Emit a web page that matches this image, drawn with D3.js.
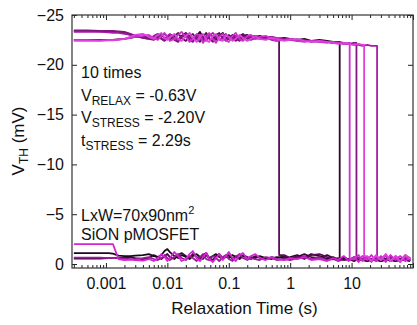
<!DOCTYPE html>
<html><head><meta charset="utf-8">
<script src="https://cdn.jsdelivr.net/npm/d3@7"></script>
<style>
html,body{margin:0;padding:0;background:#fff;}
svg{display:block;font-family:"Liberation Sans",Arial,sans-serif;}
</style></head>
<body><svg id="c" width="417" height="325"></svg>
<script>
// ---- data ----
const times = [
0.0003,0.0005,0.0008,0.0011,0.0013,0.0016,0.002,0.0025,0.003,0.004,
0.005,0.006,0.007,0.008,0.009,0.01,0.011,0.013,0.015,0.017,
0.02,0.023,0.026,0.03,0.034,0.038,0.043,0.048,0.055,0.062,
0.07,0.08,0.09,0.1,0.115,0.13,0.15,0.17,0.2,0.23,
0.27,0.32,0.4,0.5,0.6,0.8,1,1.3,1.7,2.2,
3,4,5,6,7.5,9,11,13,15,18,
21,25,30,36,43,52,62,75,90];

const h1 = [-23.4,-23.4,-23.35,-23.35,-23.3,-23.3,-23.2,-23.0,-22.9,-22.8,
-22.7,-22.8,-22.6,-22.9,-23.1,-22.8,-22.5,-22.9,-23.2,-22.7,
-22.4,-22.9,-23.1,-22.6,-22.3,-22.8,-23.2,-22.7,-22.4,-23.0,
-23.2,-22.6,-22.5,-23.0,-22.7,-22.4,-22.9,-23.1,-22.6,-22.8,
-22.9,-22.7,-22.8,-22.6,-22.5,-0.9,-0.6,-0.8,-0.5,-0.9,
-1.0,-0.7,-0.5,-0.6,-0.4,-0.5,-0.3,-0.6,-0.4,-0.5,
-0.3,-0.6,-0.4,-0.5,-0.3,-0.6,-0.4,-0.5,-0.3];
const h2 = [-22.5,-22.5,-22.5,-22.5,-22.5,-22.55,-22.6,-22.7,-22.8,-22.8,
-22.8,-22.6,-22.9,-23.0,-22.7,-22.6,-23.0,-22.8,-22.5,-22.9,
-23.2,-22.8,-22.5,-22.9,-23.3,-22.7,-22.6,-23.1,-22.8,-22.5,
-22.9,-23.2,-22.7,-22.6,-23.0,-22.8,-22.5,-22.9,-23.0,-22.7,
-22.8,-22.9,-22.7,-22.8,-22.6,-22.7,-22.6,-22.5,-22.6,-22.4,
-22.5,-22.4,-22.3,-22.3,-0.6,-0.4,-0.7,-0.5,-0.4,-0.6,
-0.5,-0.4,-0.6,-0.5,-0.4,-0.6,-0.5,-0.4,-0.5];
const h3 = [-22.5,-22.5,-22.45,-22.5,-22.5,-22.55,-22.6,-22.7,-22.8,-22.9,
-23.0,-22.7,-22.5,-22.9,-23.2,-22.8,-22.4,-22.6,-23.0,-23.3,
-22.8,-22.3,-22.6,-23.1,-22.9,-22.2,-22.7,-23.2,-22.6,-22.2,
-22.8,-23.1,-22.5,-22.3,-22.9,-23.2,-22.6,-22.4,-22.9,-23.0,
-22.6,-22.8,-22.9,-22.6,-22.4,-22.5,-22.6,-22.4,-22.3,-22.4,
-22.3,-22.2,-22.3,-22.2,-22.1,-22.2,-0.5,-0.9,-0.3,-0.7,
-0.2,-0.8,-0.4,-0.9,-0.3,-0.7,-0.2,-0.8,-0.4];
const h4 = [-23.45,-23.45,-23.4,-23.4,-23.4,-23.35,-23.3,-23.1,-22.9,-22.7,
-22.6,-22.5,-22.8,-22.6,-22.4,-22.7,-22.9,-22.5,-22.3,-22.8,
-23.0,-22.5,-22.3,-22.8,-22.6,-22.4,-22.9,-22.6,-22.3,-22.7,
-23.0,-22.8,-22.4,-22.7,-22.9,-22.6,-22.4,-22.8,-22.7,-22.5,
-22.7,-22.6,-22.8,-22.5,-22.4,-22.6,-22.5,-22.4,-22.5,-22.3,
-22.4,-22.3,-22.2,-22.3,-22.2,-22.1,-22.2,-0.6,-0.4,-0.7,
-0.5,-0.3,-0.6,-0.4,-0.7,-0.5,-0.3,-0.6,-0.4];
const h5 = [-22.4,-22.4,-22.4,-22.45,-22.45,-22.5,-22.6,-22.8,-23.0,-23.1,
-22.8,-22.6,-23.0,-23.2,-22.7,-22.5,-22.8,-23.1,-22.6,-22.4,
-22.9,-23.2,-22.7,-22.3,-22.8,-23.1,-22.5,-22.3,-22.9,-23.1,
-22.5,-22.4,-23.0,-22.8,-22.4,-22.6,-23.0,-22.7,-22.4,-22.6,
-22.9,-22.6,-22.5,-22.7,-22.6,-22.4,-22.5,-22.6,-22.4,-22.3,
-22.4,-22.3,-22.2,-22.1,-22.2,-22.1,-22.0,-22.1,-22.0,-0.8,
-0.3,-0.9,-0.4,-1.0,-0.3,-0.8,-0.2,-0.9,-0.5];
const h6 = [-23.3,-23.3,-23.3,-23.25,-23.2,-23.2,-23.1,-23.0,-22.9,-22.7,
-22.6,-22.9,-23.1,-22.7,-22.5,-22.9,-23.1,-22.7,-22.5,-22.8,
-23.1,-22.7,-22.4,-22.8,-23.0,-22.6,-22.4,-22.9,-23.2,-22.8,
-22.5,-22.7,-23.1,-22.6,-22.5,-22.9,-22.8,-22.5,-22.7,-22.9,
-22.6,-22.7,-22.6,-22.8,-22.7,-22.6,-22.5,-22.5,-22.4,-22.4,
-22.3,-22.3,-22.2,-22.2,-22.1,-22.1,-22.0,-22.0,-21.9,-22.0,
-21.9,-21.9,-0.5,-0.9,-0.3,-0.8,-0.4,-0.9,-0.5];
const l1 = [-1.1,-1.1,-1.1,-1.1,-1.05,-0.85,-0.8,-0.8,-0.85,-0.9,
-1.0,-0.8,-0.7,-0.9,-1.3,-1.5,-1.2,-0.8,-0.6,-0.9,
-0.7,-0.5,-0.8,-1.0,-0.7,-0.5,-0.9,-0.6,-0.8,-1.0,
-0.7,-0.5,-0.8,-0.6,-0.9,-0.7,-0.5,-0.8,-0.6,-0.7,
-0.6,-0.8,-0.6,-0.5,-0.7,-0.6,-0.7,-0.9,-0.6,-1.0,
-0.8,-0.5,-0.7,-0.4,-0.6,-0.5,-0.3,-0.5,-0.4,-0.3,
-0.5,-0.4,-0.3,-0.5,-0.4,-0.3,-0.5,-0.4,-0.3];
const l2 = [-0.55,-0.55,-0.55,-0.6,-0.6,-0.6,-0.65,-0.7,-0.6,-0.5,
-0.6,-0.9,-0.7,-0.5,-0.8,-1.0,-0.7,-0.5,-0.9,-1.1,
-0.8,-0.6,-1.0,-0.7,-0.5,-0.9,-1.1,-0.6,-0.4,-0.8,
-1.0,-0.6,-0.7,-0.9,-0.5,-0.8,-0.6,-0.9,-0.7,-0.5,
-0.8,-0.6,-0.5,-0.7,-0.6,-0.8,-0.5,-0.7,-1.0,-0.7,
-0.6,-0.9,-0.6,-0.5,-0.7,-0.4,-0.6,-0.4,-0.5,-0.3,
-0.4,-0.5,-0.3,-0.4,-0.5,-0.3,-0.4,-0.5,-0.4];
const l3 = [-2.0,-2.0,-2.0,-2.0,-2.0,-0.5,-0.4,-0.45,-0.4,-0.35,
-0.5,-0.3,-0.6,-1.0,-0.7,-0.3,-0.6,-1.2,-0.8,-0.3,
-0.5,-1.0,-1.3,-0.6,-0.3,-0.7,-1.1,-0.5,-0.2,-0.6,
-1.0,-0.4,-0.8,-1.2,-0.6,-0.3,-0.9,-1.1,-0.5,-0.8,
-1.0,-0.6,-0.4,-0.7,-0.5,-0.4,-0.6,-0.5,-0.7,-0.4,
-0.5,-0.3,-0.6,-0.4,-0.8,-0.3,-0.7,-0.2,-0.8,-0.4,
-0.9,-0.3,-0.8,-0.2,-0.9,-0.4,-0.8,-0.3,-0.7];
const l4 = [-0.65,-0.65,-0.65,-0.6,-0.6,-0.6,-0.55,-0.5,-0.5,-0.6,
-0.7,-0.5,-0.4,-0.6,-0.9,-0.6,-0.4,-0.7,-1.0,-0.6,
-0.4,-0.8,-0.6,-0.3,-0.7,-1.0,-0.5,-0.4,-0.8,-0.6,
-0.3,-0.7,-0.9,-0.5,-0.3,-0.7,-1.0,-0.6,-0.4,-0.6,
-0.5,-0.4,-0.7,-0.6,-0.4,-0.5,-0.4,-0.6,-0.8,-0.5,
-0.7,-0.4,-0.5,-0.3,-0.5,-0.4,-0.6,-0.3,-0.5,-0.7,
-0.3,-0.6,-0.5,-0.8,-0.3,-0.6,-0.4,-0.7,-0.3];

// emission (drop) times per trace, null = no drop
const traceValues = [l2, l1, l4, h2, h1, h6, h4, l3, h3, h5];
const dropTimes   = [null, null, null, 6.4, 0.66, 26, 12, null, 9.3, 16];
const colors      = ["#3a0a3a","#1a0a1a","#9a1a9a","#2a082a","#5a0f5a","#a81ca8","#801880","#d424d4","#cc30cc","#e040e0"];

const yTicks = [-25,-20,-15,-10,-5,0];
const xMajor = [0.001,0.01,0.1,1,10,100];
const xLabels = ["0.001","0.01","0.1","1","10",""];

// ---- layout ----
const L=72, R=413, T=15, B=268;
const svg = d3.select("#c");
const x = d3.scaleLog().domain([0.00028,100]).range([L,R]);
const y = d3.scaleLinear().domain([-25,0.4]).range([T,B]);

const xMinor = [];
for (let e=-4;e<=1;e++) for (let m=2;m<=9;m++){const v=m*Math.pow(10,e); if(v>=0.00028&&v<=100) xMinor.push(v);}

svg.append("defs").append("clipPath").attr("id","clip")
  .append("rect").attr("x",L).attr("y",T).attr("width",R-L).attr("height",B-T);

const line = d3.line().x(d=>x(d[0])).y(d=>y(d[1]));
const g = svg.append("g").attr("clip-path","url(#clip)");
traceValues.forEach((vals,k)=>{
  const pts=[]; const dt=dropTimes[k]; let dropped=false;
  for(let i=0;i<times.length;i++){
    if(dt!==null && !dropped && times[i]>=dt){
      pts.push([dt, vals[i-1]]); pts.push([dt, vals[i]]); dropped=true;
    }
    pts.push([times[i], vals[i]]);
  }
  g.append("path").attr("d",line(pts)).attr("fill","none")
   .attr("stroke",colors[k]).attr("stroke-width",1.8).attr("stroke-linejoin","round");
});

// axes
const fs=16;
const gb = svg.append("g").attr("transform",`translate(0,${B})`)
  .call(d3.axisBottom(x).tickValues(xMajor).tickFormat((d,i)=>xLabels[i]).tickSize(-5).tickPadding(10));
const gbm = svg.append("g").attr("transform",`translate(0,${B})`)
  .call(d3.axisBottom(x).tickValues(xMinor).tickFormat("").tickSize(-3));
const gt = svg.append("g").attr("transform",`translate(0,${T})`)
  .call(d3.axisTop(x).tickValues(xMajor).tickFormat("").tickSize(-5));
const gtm = svg.append("g").attr("transform",`translate(0,${T})`)
  .call(d3.axisTop(x).tickValues(xMinor).tickFormat("").tickSize(-3));
const gl = svg.append("g").attr("transform",`translate(${L},0)`)
  .call(d3.axisLeft(y).tickValues(yTicks).tickFormat(d3.format("d")).tickSize(-5).tickPadding(8));
const gr = svg.append("g").attr("transform",`translate(${R},0)`)
  .call(d3.axisRight(y).tickValues(yTicks).tickFormat("").tickSize(-5));
[gb,gbm,gt,gtm,gl,gr].forEach(a=>{
  a.select(".domain").remove();
  a.selectAll("line").attr("stroke","#222").attr("stroke-width",1);
  a.selectAll("text").attr("font-size",fs).attr("fill","#111")
   .attr("font-family","'Liberation Sans',Arial,sans-serif");
});

svg.append("rect").attr("x",L).attr("y",T).attr("width",R-L).attr("height",B-T)
  .attr("fill","none").attr("stroke","#333").attr("stroke-width",1.2);

// axis titles
svg.append("text").attr("x",(L+R)/2+2).attr("y",314).attr("text-anchor","middle")
  .attr("font-size",17).attr("fill","#111").text("Relaxation Time (s)");
const yt = svg.append("text").attr("transform","translate(24,141) rotate(-90)")
  .attr("text-anchor","middle").attr("font-size",17).attr("fill","#111");
yt.append("tspan").text("V");
yt.append("tspan").attr("font-size",12).attr("dy",4).text("TH");
yt.append("tspan").attr("dy",-4).text(" (mV)");

// annotations
const ann = [
  {main:"10 times", sub:null, rest:null, y:78},
  {main:"V", sub:"RELAX", rest:" = -0.63V", y:101},
  {main:"V", sub:"STRESS", rest:" = -2.20V", y:123},
  {main:"t", sub:"STRESS", rest:" = 2.29s", y:146},
];
ann.forEach(a=>{
  const t=svg.append("text").attr("x",81).attr("y",a.y).attr("font-size",16).attr("fill","#111");
  t.append("tspan").text(a.main);
  if(a.sub){ t.append("tspan").attr("font-size",12).attr("dy",4).text(a.sub);
             t.append("tspan").attr("dy",-4).text(a.rest); }
});
const t5=svg.append("text").attr("x",81).attr("y",221).attr("font-size",16).attr("fill","#111");
t5.append("tspan").text("LxW=70x90nm");
t5.append("tspan").attr("font-size",11).attr("dy",-7).text("2");
svg.append("text").attr("x",81).attr("y",240).attr("font-size",16).attr("fill","#111").text("SiON pMOSFET");
</script></body></html>
